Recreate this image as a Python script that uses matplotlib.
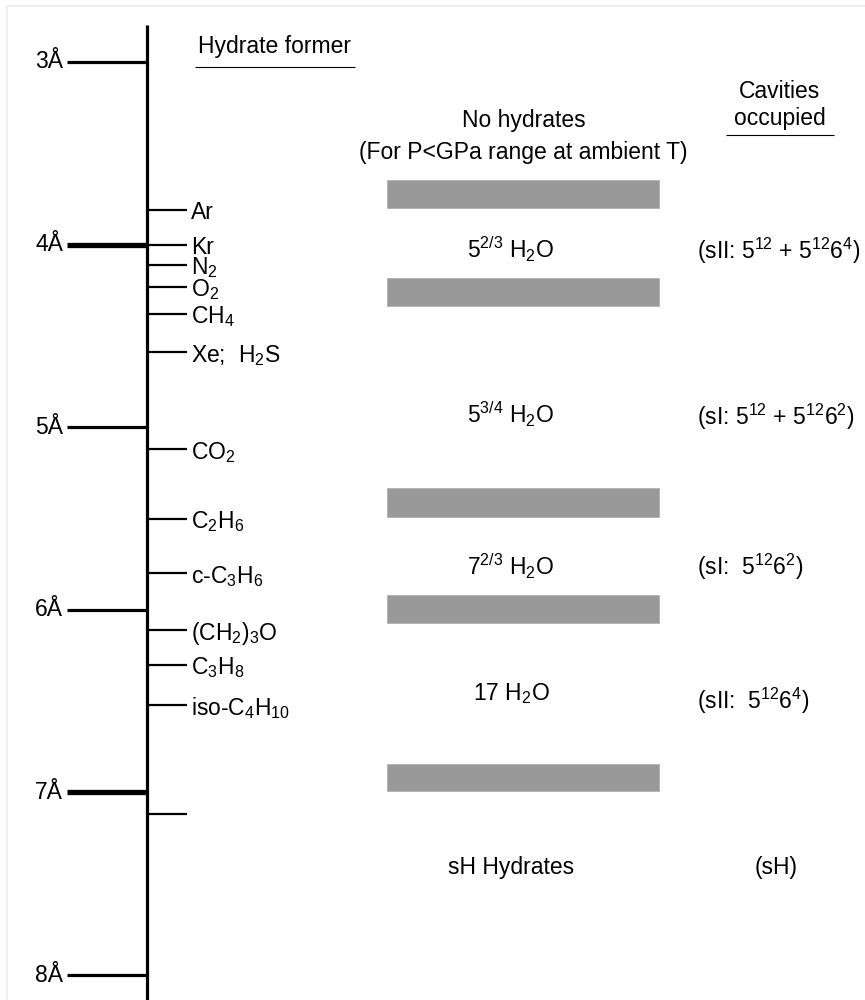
import numpy as np
import matplotlib
matplotlib.use('Agg')
import matplotlib.pyplot as plt
from matplotlib.patches import Rectangle

plt.rcParams['font.family'] = ['Liberation Sans', 'DejaVu Sans']
plt.rcParams['mathtext.fontset'] = 'custom'
plt.rcParams['mathtext.rm'] = 'Liberation Sans'
plt.rcParams['mathtext.it'] = 'Liberation Sans:italic'
plt.rcParams['mathtext.bf'] = 'Liberation Sans:bold'
plt.rcParams['mathtext.default'] = 'regular'

# Size scale (Angstrom)
major_sizes = [3, 4, 5, 6, 7, 8]
major_labels = ['3Å', '4Å', '5Å', '6Å', '7Å', '8Å']
heavy_sizes = [4, 7]

# Hydrate formers and their guest sizes (Angstrom)
formers = ['Ar', 'Kr', 'N$_2$', 'O$_2$', 'CH$_4$', 'Xe;  H$_2$S', 'CO$_2$',
           'C$_2$H$_6$', 'c-C$_3$H$_6$', '(CH$_2$)$_3$O', 'C$_3$H$_8$',
           'iso-C$_4$H$_{10}$', '']
former_sizes = [3.81, 4.00, 4.11, 4.23, 4.38, 4.59, 5.12,
                5.50, 5.80, 6.11, 6.30, 6.52, 7.12]

# Grey bands separating hydrate regions (Angstrom)
band_top = [3.646, 4.183, 5.333, 5.919, 6.844]
band_bottom = [3.800, 4.336, 5.492, 6.072, 6.992]

# Region labels
region_labels = ['5$^{2/3}$ H$_2$O', '5$^{3/4}$ H$_2$O', '7$^{2/3}$ H$_2$O',
                 '17 H$_2$O', 'sH Hydrates']
region_sizes = [4.01, 4.91, 5.745, 6.445, 7.40]
cavity_labels = ['(sII: 5$^{12}$ + 5$^{12}$6$^4$)', '(sI: 5$^{12}$ + 5$^{12}$6$^2$)',
                 '(sI:  5$^{12}$6$^2$)', '(sII:  5$^{12}$6$^4$)', '(sH)']
cavity_sizes = [4.013, 4.925, 5.745, 6.48, 7.40]

FS = 16.5
PX = 182.6  # pixels per Angstrom


def ang(py):
    # pixel row -> Angstrom
    return 3 + (py - 62) / PX


fig = plt.figure(figsize=(8.65, 10), dpi=100)
ax = fig.add_axes([0, 0, 1, 1])
ax.set_xlim(0, 865)
ax.set_ylim(ang(1000), ang(0))
ax.axis('off')

# light frame
ax.add_patch(Rectangle((7, ang(1010)), 870, ang(6) - ang(1010), fill=False,
                       edgecolor='#eeeeee', lw=1.5))

# main axis line
ax.vlines(147, ang(25), ang(1005), color='black', lw=2.3)

# major ticks
for s, lab in zip(major_sizes, major_labels):
    lw = 3.8 if s in heavy_sizes else 2.3
    ax.hlines(s, 67, 147, color='black', lw=lw)
    ax.text(63, s, lab, ha='right', va='center', fontsize=FS)

# former ticks
ax.hlines(former_sizes, 147, 187, color='black', lw=1.6)
for s, lab in zip(former_sizes, formers):
    if lab:
        ax.text(191, s, lab, ha='left', va='center_baseline', fontsize=FS)

# grey bands
centers = (np.array(band_top) + np.array(band_bottom)) / 2
heights = np.array(band_bottom) - np.array(band_top)
ax.barh(centers, 272, height=heights, left=387, color='#999999',
        edgecolor='#aaaaaa', lw=0.5)

# region and cavity labels
for s, lab in zip(region_sizes, region_labels):
    ax.text(511, s, lab, ha='center', va='center_baseline', fontsize=FS)
for s, lab in zip(cavity_sizes, cavity_labels):
    if lab == '(sH)':
        ax.text(776, s, lab, ha='center', va='center_baseline', fontsize=FS)
    else:
        ax.text(697, s, lab, ha='left', va='center_baseline', fontsize=FS)

# headers
ax.text(198, ang(47), 'Hydrate former', ha='left', va='center', fontsize=FS)
ax.hlines(ang(67), 195, 355, color='black', lw=0.8)
ax.text(524, ang(121), 'No hydrates', ha='center', va='center', fontsize=FS)
ax.text(523, ang(152), '(For P<GPa range at ambient T)', ha='center',
        va='center', fontsize=FS)
ax.text(780, ang(91), 'Cavities', ha='center', va='center', fontsize=FS)
ax.text(780, ang(119), 'occupied', ha='center', va='center', fontsize=FS)
ax.hlines(ang(135), 726, 834, color='black', lw=0.8)

fig.savefig('out.png', dpi=100)
